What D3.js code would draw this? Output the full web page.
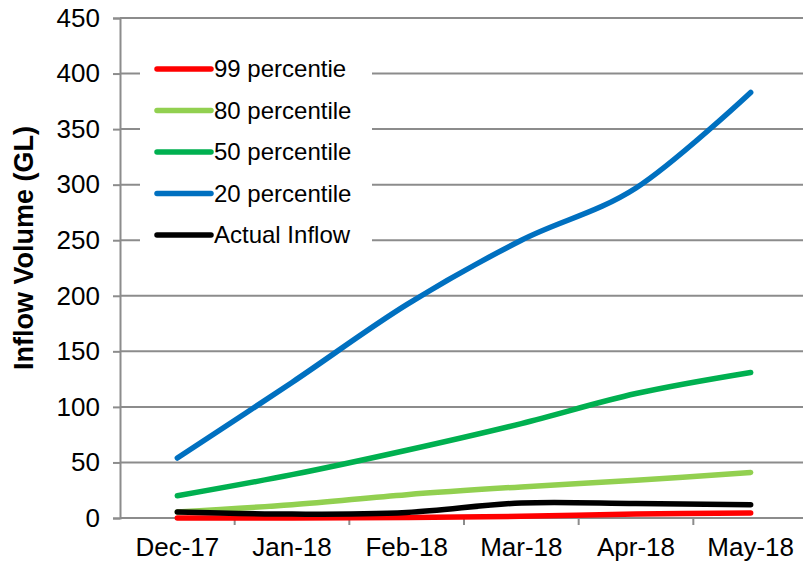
<!DOCTYPE html>
<html>
<head>
<meta charset="utf-8">
<script src="https://cdn.jsdelivr.net/npm/d3@7"></script>
<style>
  body { margin: 0; background: #fff; }
  text { font-family: "Liberation Sans", Arial, sans-serif; }
</style>
</head>
<body>
<svg id="chart" width="803" height="565"></svg>
<script>
const categories = ["Dec-17", "Jan-18", "Feb-18", "Mar-18", "Apr-18", "May-18"];
const yTicks = [0, 50, 100, 150, 200, 250, 300, 350, 400, 450];
const seriesNames = ["99 percentie", "80 percentile", "50 percentile", "20 percentile", "Actual Inflow"];
const seriesColors = ["#FF0000", "#92D050", "#00B050", "#0070C0", "#000000"];
const p99 = [0, 0, 0.5, 1.5, 3.5, 4.5];
const p80 = [5.5, 12, 21, 28, 34, 41];
const p50 = [20, 39, 61, 85, 112, 131];
const p20 = [54, 122, 192, 250, 297, 383];
const actual = [5.5, 3.5, 5, 13.5, 13, 12];
const seriesValues = [p99, p80, p50, p20, actual];

const svg = d3.select("#chart");
const mLeft = 120, mRight = 808, mTop = 18, mBottom = 518;

const x = d3.scaleBand().domain(categories).range([mLeft, mRight]).padding(0);
const y = d3.scaleLinear().domain([0, 450]).range([mBottom, mTop]);

const gridColor = "#8c8c8c";

// gridlines
svg.append("g").selectAll("line").data(yTicks.filter(d => d > 0)).join("line")
  .attr("x1", mLeft).attr("x2", 803)
  .attr("y1", d => y(d)).attr("y2", d => y(d))
  .attr("stroke", gridColor).attr("stroke-width", 2);

// y axis
const yAxis = svg.append("g").attr("transform", `translate(${mLeft},0)`)
  .call(d3.axisLeft(y).tickValues(yTicks).tickSize(7).tickPadding(13));
yAxis.select(".domain").attr("stroke", gridColor).attr("stroke-width", 2);
yAxis.selectAll(".tick line").attr("stroke", gridColor).attr("stroke-width", 2);
yAxis.selectAll(".tick text").attr("font-size", 26).attr("fill", "#000")
  .attr("font-family", "Liberation Sans, Arial, sans-serif");

// x axis
const xAxis = svg.append("g").attr("transform", `translate(0,${mBottom})`)
  .call(d3.axisBottom(x).tickSize(0).tickPadding(20));
xAxis.select(".domain").attr("stroke", gridColor).attr("stroke-width", 2)
  .attr("d", `M${mLeft},0H803`);
xAxis.selectAll(".tick text").attr("font-size", 26).attr("fill", "#000")
  .attr("font-family", "Liberation Sans, Arial, sans-serif");
// boundary ticks between categories
svg.append("g").selectAll("line").data(categories.slice(1)).join("line")
  .attr("x1", d => x(d)).attr("x2", d => x(d))
  .attr("y1", mBottom).attr("y2", mBottom + 7)
  .attr("stroke", gridColor).attr("stroke-width", 2);

// y title
svg.append("text")
  .attr("transform", `translate(33,248) rotate(-90)`)
  .attr("text-anchor", "middle")
  .attr("font-size", 27).attr("font-weight", "bold")
  .text("Inflow Volume (GL)");

// lines
const line = d3.line()
  .x((d, i) => x(categories[i]) + x.bandwidth() / 2)
  .y(d => y(d))
  .curve(d3.curveCardinal.tension(0));

svg.append("g").selectAll("path").data(seriesValues).join("path")
  .attr("d", d => line(d))
  .attr("fill", "none")
  .attr("stroke", (d, i) => seriesColors[i])
  .attr("stroke-width", 5.5)
  .attr("stroke-linecap", "round")
  .attr("stroke-linejoin", "round");

// legend
svg.append("rect").attr("x", 140).attr("y", 48).attr("width", 232).attr("height", 208).attr("fill", "#fff");
const lg = svg.append("g").attr("transform", "translate(157,69)");
const items = lg.selectAll("g").data(seriesNames).join("g")
  .attr("transform", (d, i) => `translate(0,${i * 41.5})`);
items.append("line").attr("x1", 0).attr("x2", 54).attr("y1", 0).attr("y2", 0)
  .attr("stroke", (d, i) => seriesColors[i]).attr("stroke-width", 5.5).attr("stroke-linecap", "round");
items.append("text").attr("x", 57).attr("y", 0).attr("dy", "0.35em")
  .attr("font-size", 24).text(d => d);
</script>
</body>
</html>
